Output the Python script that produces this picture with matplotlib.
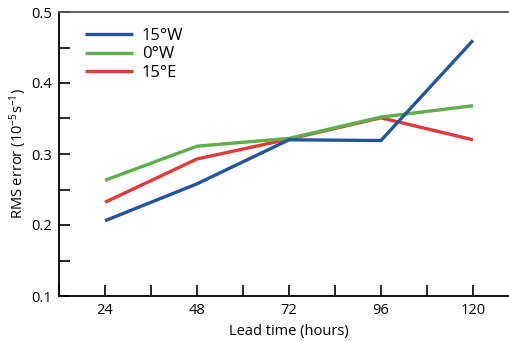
import matplotlib
matplotlib.use("Agg")
import matplotlib.pyplot as plt
from matplotlib.ticker import MultipleLocator

plt.rcParams['font.family'] = ['Open Sans', 'DejaVu Sans']
plt.rcParams['mathtext.default'] = 'regular'

lead_time = [24, 48, 72, 96, 120]
w15 = [0.206, 0.258, 0.320, 0.319, 0.460]
w0 = [0.263, 0.311, 0.322, 0.352, 0.368]
e15 = [0.232, 0.293, 0.321, 0.351, 0.320]
labels = ['15°W', '0°W', '15°E']

fig = plt.figure(figsize=(5.10, 3.41), dpi=100)
ax = fig.add_axes([59/510, 45/341, 451/510, 284/341])

lw = 2.4
lr, = ax.plot(lead_time, e15, color='#e2393b', lw=lw, solid_capstyle='butt')
lg, = ax.plot(lead_time, w0, color='#5bb04a', lw=lw, solid_capstyle='butt')
lb, = ax.plot(lead_time, w15, color='#22549f', lw=lw, solid_capstyle='butt')

ax.set_xlim(12, 24 + (510 - 105) / 92 * 24)
ax.set_ylim(0.1, 0.5)
ax.set_xticks(lead_time)
ax.xaxis.set_minor_locator(MultipleLocator(12))
ax.set_yticks([0.1, 0.2, 0.3, 0.4, 0.5])
ax.set_yticklabels(['0.1', '0.2', '0.3', '0.4', '0.5'])
ax.yaxis.set_minor_locator(MultipleLocator(0.05))

ax.tick_params(which='both', direction='in', length=8, width=1.2, color='black',
               labelsize=10.5, pad=5)
ax.tick_params(axis='x', which='both', top=False)
ax.tick_params(axis='y', which='both', right=False)

for s in ['left', 'bottom']:
    ax.spines[s].set_color('black')
    ax.spines[s].set_linewidth(1.3)
ax.spines['top'].set_color('#555555')
ax.spines['top'].set_linewidth(1.3)
ax.spines['right'].set_visible(False)

ax.set_xlabel('Lead time (hours)', fontsize=10.5, labelpad=2)
ax.xaxis.set_label_coords((289 - 59) / 451, -0.1)
ax.set_ylabel('RMS error (10$^{-5}$s$^{-1}$)', fontsize=10.5)
ax.yaxis.set_label_coords((29 - 59) / 451, 0.5)

ax.legend([lb, lg, lr], labels, loc='upper left', frameon=False,
          fontsize=12, handlelength=2.9, handletextpad=0.5,
          labelspacing=0.15, borderpad=0, borderaxespad=0,
          bbox_to_anchor=((85 - 59) / 451, (296 - 28) / 284))

fig.savefig('out.png', dpi=100)
